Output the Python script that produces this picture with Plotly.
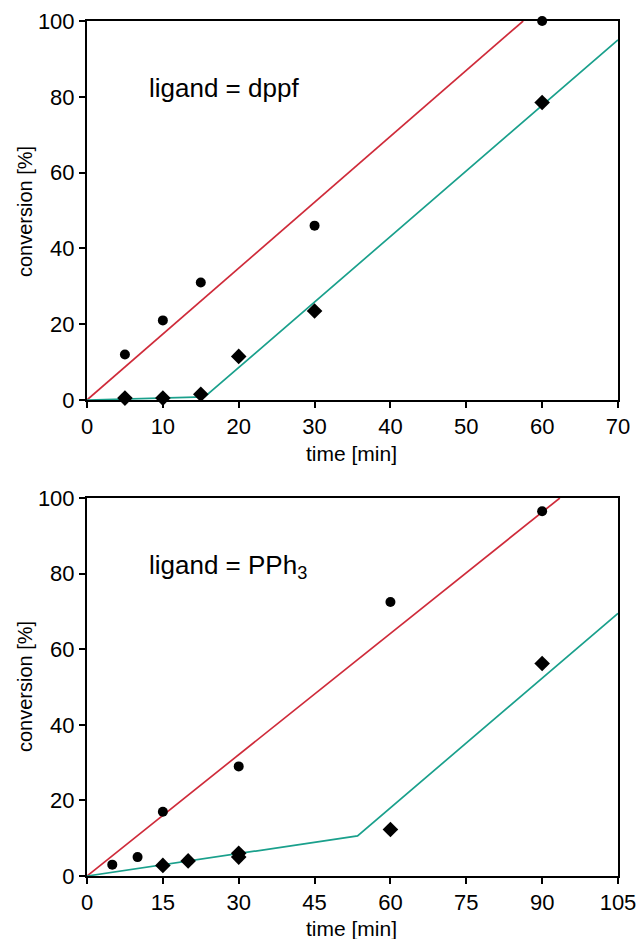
import plotly.graph_objects as go

# ---- data: ligand = dppf (top panel) ----
dppf_circle_t = [5, 10, 15, 30, 60]
dppf_circle_conv = [12, 21, 31, 46, 100]
dppf_diamond_t = [5, 10, 15, 20, 30, 60]
dppf_diamond_conv = [0.5, 0.5, 1.5, 11.5, 23.5, 78.5]
dppf_red_t = [0, 57.5]
dppf_red_conv = [0, 100]
dppf_green_t = [0, 15.5, 70]
dppf_green_conv = [0, 0.8, 95]

# ---- data: ligand = PPh3 (bottom panel) ----
pph3_circle_t = [5, 10, 15, 30, 60, 90]
pph3_circle_conv = [3, 5, 17, 29, 72.5, 96.5]
pph3_diamond_t = [15, 20, 30, 30, 60, 90]
pph3_diamond_conv = [2.8, 4, 5, 6, 12.3, 56.2]
pph3_red_t = [0, 93.5]
pph3_red_conv = [0, 100]
pph3_green_t = [0, 53.5, 105]
pph3_green_conv = [0, 10.6, 69.5]

top_xticks = [0, 10, 20, 30, 40, 50, 60, 70]
bot_xticks = [0, 15, 30, 45, 60, 75, 90, 105]
yticks = [0, 20, 40, 60, 80, 100]

RED = "#cf2b3a"
GREEN = "#1aa08c"
FONT = "Liberation Sans, Arial, Helvetica, sans-serif"

fig = go.Figure()

def add_panel(xa, ya, red_t, red_c, green_t, green_c, ct, cc, dt, dc):
    fig.add_trace(go.Scatter(x=red_t, y=red_c, mode="lines", xaxis=xa, yaxis=ya,
                             line=dict(color=RED, width=1.7), showlegend=False))
    fig.add_trace(go.Scatter(x=green_t, y=green_c, mode="lines", xaxis=xa, yaxis=ya,
                             line=dict(color=GREEN, width=1.7), showlegend=False))
    fig.add_trace(go.Scatter(x=ct, y=cc, mode="markers", xaxis=xa, yaxis=ya, cliponaxis=False,
                             marker=dict(symbol="circle", size=10, color="black"), showlegend=False))
    fig.add_trace(go.Scatter(x=dt, y=dc, mode="markers", xaxis=xa, yaxis=ya, cliponaxis=False,
                             marker=dict(symbol="diamond", size=12, color="black"), showlegend=False))

add_panel("x", "y", dppf_red_t, dppf_red_conv, dppf_green_t, dppf_green_conv,
          dppf_circle_t, dppf_circle_conv, dppf_diamond_t, dppf_diamond_conv)
add_panel("x2", "y2", pph3_red_t, pph3_red_conv, pph3_green_t, pph3_green_conv,
          pph3_circle_t, pph3_circle_conv, pph3_diamond_t, pph3_diamond_conv)

axis_common = dict(showline=True, linecolor="black", linewidth=2, mirror=True,
                   ticks="outside", ticklen=6, tickwidth=1.5, tickcolor="black",
                   showgrid=False, zeroline=False, automargin=False,
                   ticklabeloverflow="allow",
                   tickfont=dict(family=FONT, size=22, color="black"))

top_dom = [(876 - 400) / 855, 1.0]
bot_dom = [0.0, (876 - 498) / 855]

fig.update_layout(
    width=636, height=939,
    margin=dict(l=87, r=18, t=21, b=63),
    paper_bgcolor="white", plot_bgcolor="white",
    font=dict(family=FONT, color="black"),
    xaxis=dict(axis_common, range=[0, 70], tickvals=top_xticks, anchor="y", domain=[0, 1]),
    yaxis=dict(axis_common, range=[0, 100], tickvals=yticks, anchor="x", domain=top_dom),
    xaxis2=dict(axis_common, range=[0, 105], tickvals=bot_xticks, anchor="y2", domain=[0, 1]),
    yaxis2=dict(axis_common, range=[0, 100], tickvals=yticks, anchor="x2", domain=bot_dom),
)

ann_font = dict(family=FONT, size=26, color="black")
title_font = dict(family=FONT, size=21, color="black")
plot_h = 855.0

def ypaper(px):
    return (876 - px) / plot_h

fig.add_annotation(text="ligand = dppf", xref="paper", yref="paper",
                   x=(147 - 87) / 531, y=ypaper(88), xanchor="left", yanchor="middle",
                   showarrow=False, font=ann_font)
fig.add_annotation(text="ligand = PPh<sub>3</sub>", xref="paper", yref="paper",
                   x=(147 - 87) / 531, y=ypaper(566), xanchor="left", yanchor="middle",
                   showarrow=False, font=ann_font)

for yc in (212, 687):
    fig.add_annotation(text="conversion [%]", xref="paper", yref="paper",
                       x=(25 - 87) / 531, y=ypaper(yc), xanchor="center", yanchor="middle",
                       textangle=-90, showarrow=False, font=dict(family=FONT, size=20, color="black"))
for yc in (453, 928):
    fig.add_annotation(text="time [min]", xref="paper", yref="paper",
                       x=(351 - 87) / 531, y=ypaper(yc), xanchor="center", yanchor="middle",
                       showarrow=False, font=title_font)

# remove the browser's default 8px body margin and any scrollbars
page_js = "document.body.style.margin='0';document.body.style.overflow='hidden';"

fig.write_html("out.html", post_script=page_js, config={"displayModeBar": False})
